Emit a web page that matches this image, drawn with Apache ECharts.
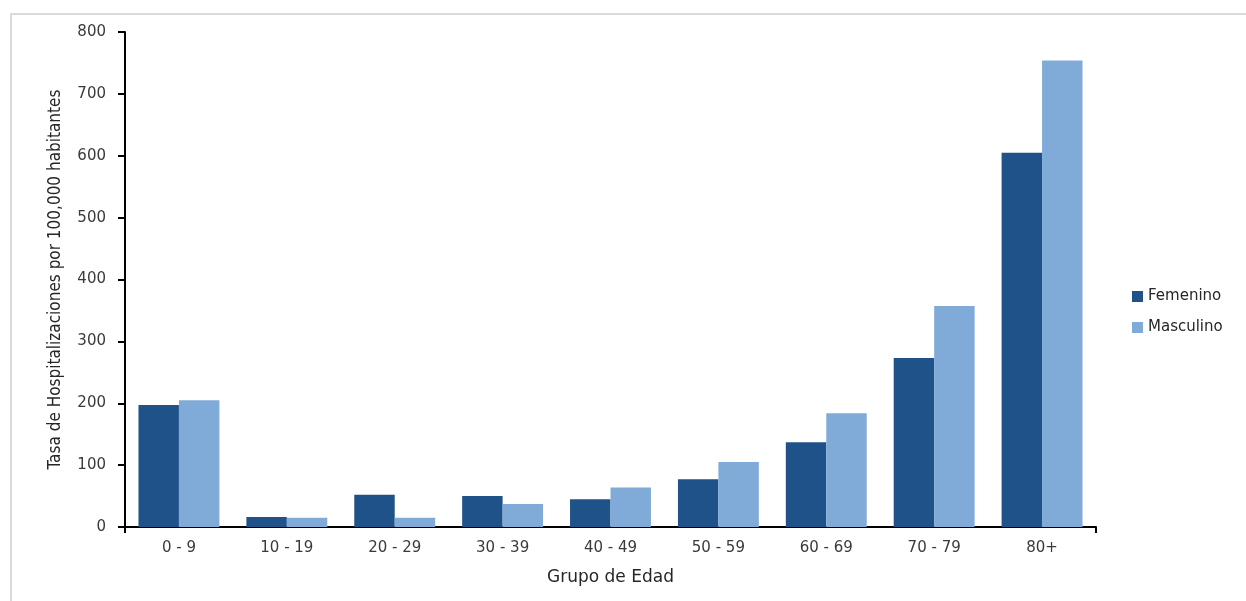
<!DOCTYPE html>
<html>
<head>
<meta charset="utf-8">
<script src="https://cdn.jsdelivr.net/npm/echarts@6/dist/echarts.min.js"></script>
<style>
  html, body { margin: 0; padding: 0; background: #ffffff; }
  #frame { position: absolute; left: 10px; top: 13px; width: 1300px; height: 700px;
           border-top: 2px solid #d9d9d9; border-left: 2px solid #d9d9d9; box-sizing: border-box; }
  #chart { position: absolute; left: 0; top: 0; width: 1246px; height: 601px; }
</style>
</head>
<body>
<div id="frame"></div>
<div id="chart"></div>
<script>
// Hospitalisation rate per 100,000 inhabitants, by age group and sex
const ageGroups = ['0 - 9', '10 - 19', '20 - 29', '30 - 39', '40 - 49', '50 - 59', '60 - 69', '70 - 79', '80+'];
const femenino  = [197, 16, 52, 50, 45, 77, 137, 273, 605];
const masculino = [205, 15, 15, 37, 64, 105, 184, 357, 754];
const seriesNames = ['Femenino', 'Masculino'];
const yTicks = { min: 0, max: 800, step: 100 };

const wideFont = 'DejaVu Sans, Verdana, sans-serif';
const narrowFont = 'Liberation Sans Narrow, DejaVu Sans Condensed, sans-serif';
const textColor = '#3a3a3a';
const chart = echarts.init(document.getElementById('chart'), null, { renderer: 'canvas' });

chart.setOption({
  backgroundColor: 'transparent',
  animation: false,
  grid: { left: 125, right: 150, top: 32, bottom: 74 },
  legend: {
    orient: 'vertical',
    left: 1127,
    top: 284,
    itemWidth: 11,
    itemHeight: 11,
    itemGap: 16,
    icon: 'rect',
    data: seriesNames,
    textStyle: { fontFamily: wideFont, fontSize: 15, color: '#262626' }
  },
  xAxis: [
    {
      type: 'category',
      data: ageGroups,
      name: 'Grupo de Edad',
      nameLocation: 'middle',
      nameGap: 42,
      nameTextStyle: { fontFamily: wideFont, fontSize: 17, color: '#262626' },
      axisLine: { lineStyle: { color: '#000000', width: 2 } },
      axisTick: { alignWithLabel: true, length: 6, lineStyle: { color: '#000000', width: 2 } },
      axisLabel: { margin: 14, fontFamily: wideFont, fontSize: 15, color: textColor }
    },
    {
      // end ticks at both ends of the category axis
      type: 'value',
      position: 'bottom',
      min: 0, max: ageGroups.length, interval: ageGroups.length,
      axisLine: { show: false },
      axisTick: { show: true, length: 6, lineStyle: { color: '#000000', width: 2 } },
      axisLabel: { show: false },
      splitLine: { show: false }
    }
  ],
  yAxis: {
    type: 'value',
    min: yTicks.min,
    max: yTicks.max,
    interval: yTicks.step,
    name: 'Tasa de Hospitalizaciones por 100,000 habitantes',
    nameLocation: 'middle',
    nameGap: 61,
    nameRotate: 90,
    nameTextStyle: { fontFamily: narrowFont, fontSize: 17, color: '#262626' },
    axisLine: { show: true, lineStyle: { color: '#000000', width: 2 } },
    axisTick: { show: true, length: 7, lineStyle: { color: '#000000', width: 2 } },
    axisLabel: { margin: 19, fontFamily: wideFont, fontSize: 15, color: textColor },
    splitLine: { show: false }
  },
  series: [
    {
      name: seriesNames[0],
      type: 'bar',
      data: femenino,
      barGap: '0%',
      barCategoryGap: '25%',
      itemStyle: { color: '#1f5289' }
    },
    {
      name: seriesNames[1],
      type: 'bar',
      data: masculino,
      barGap: '0%',
      barCategoryGap: '25%',
      itemStyle: { color: '#80abd9' }
    }
  ]
});
</script>
</body>
</html>
